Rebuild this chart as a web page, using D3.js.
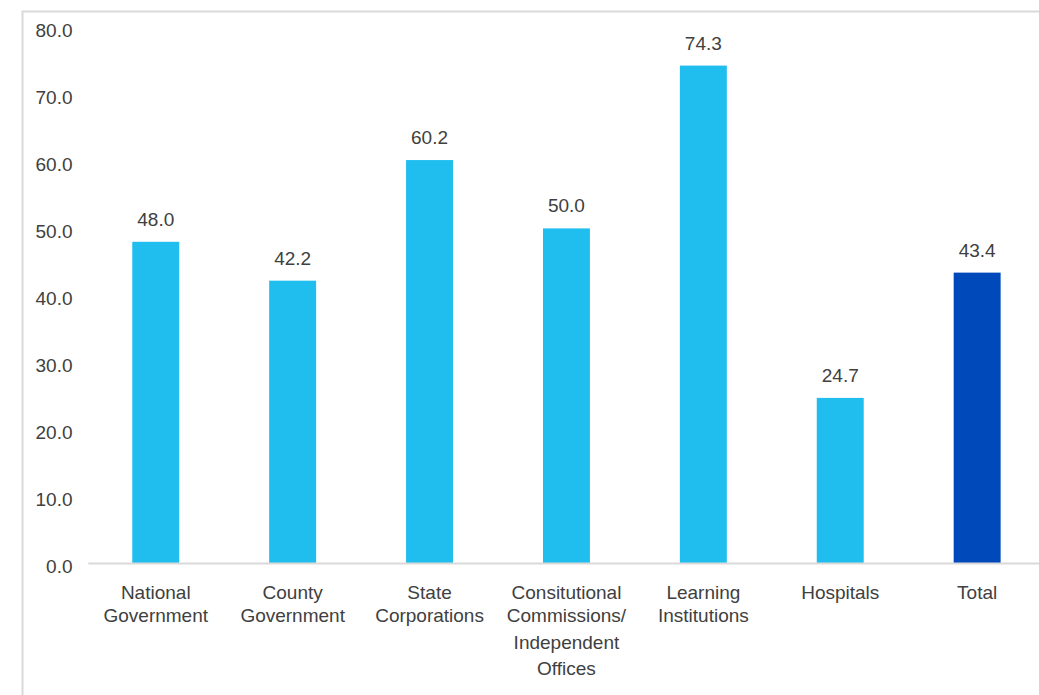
<!DOCTYPE html>
<html>
<head>
<meta charset="utf-8">
<script src="https://cdn.jsdelivr.net/npm/d3@7"></script>
<style>
  html, body { margin: 0; padding: 0; background: #fff; }
  svg { display: block; font-family: "Liberation Sans", Arial, sans-serif; }
</style>
</head>
<body>
<svg id="chart" width="1039" height="695"></svg>
<script>
// Category labels, split into the lines they wrap onto
const categories = [
  ["National", "Government"],
  ["County", "Government"],
  ["State", "Corporations"],
  ["Consitutional", "Commissions/", "Independent", "Offices"],
  ["Learning", "Institutions"],
  ["Hospitals"],
  ["Total"]
];
const values = [48.0, 42.2, 60.2, 50.0, 74.3, 24.7, 43.4];
const yTicks = [0, 10, 20, 30, 40, 50, 60, 70, 80];

const W = 1039, H = 695;
const svg = d3.select("#chart");
const textColor = "#404040";
const gridColor = "#d9d9d9";

// frame of the chart area (its right and bottom edges fall outside the view)
svg.append("path")
  .attr("d", `M22.5,${H + 2} V11.5 H${W + 2}`)
  .attr("fill", "none")
  .attr("stroke", gridColor)
  .attr("stroke-width", 2);

const x = d3.scaleBand()
  .domain(d3.range(categories.length))
  .range([87.3, 1045.6])
  .paddingInner(0.657)
  .paddingOuter(0.3285);

const y = d3.scaleLinear()
  .domain([0, 80])
  .range([563.4, 27.4]);

// value axis labels (no axis line)
const yAxis = d3.axisLeft(y)
  .tickValues(yTicks)
  .tickFormat(d3.format(".1f"))
  .tickSize(0)
  .tickPadding(0);

const yg = svg.append("g")
  .attr("transform", "translate(72.5,0)")
  .call(yAxis);
yg.select(".domain").remove();
yg.selectAll("text")
  .attr("fill", textColor)
  .attr("font-size", 19)
  .attr("font-family", "Liberation Sans, Arial, sans-serif")
  .attr("dy", null)
  .attr("y", 9);

// bars
svg.append("g")
  .selectAll("rect")
  .data(values)
  .join("rect")
  .attr("x", (d, i) => x(i))
  .attr("width", x.bandwidth())
  .attr("y", d => y(d))
  .attr("height", d => y(0) - y(d))
  .attr("fill", (d, i) => i === values.length - 1 ? "#0049BA" : "#20BEEE");

// baseline
svg.append("line")
  .attr("x1", 88.3)
  .attr("x2", W + 2)
  .attr("y1", y(0))
  .attr("y2", y(0))
  .attr("stroke", gridColor)
  .attr("stroke-width", 2);

// value labels
svg.append("g")
  .selectAll("text")
  .data(values)
  .join("text")
  .attr("x", (d, i) => x(i) + x.bandwidth() / 2)
  .attr("y", d => y(d) - 16)
  .attr("text-anchor", "middle")
  .attr("font-size", 19)
  .attr("fill", textColor)
  .text(d => d3.format(".1f")(d));

// category labels; line offsets follow the wrapped layout
const lineOffsets = [0, 23, 49.5, 75.5];
const cat = svg.append("g")
  .selectAll("text")
  .data(categories)
  .join("text")
  .attr("text-anchor", "middle")
  .attr("font-size", 19)
  .attr("fill", textColor)
  .attr("transform", (d, i) => `translate(${x(i) + x.bandwidth() / 2},599)`);

cat.selectAll("tspan")
  .data(d => d)
  .join("tspan")
  .attr("x", 0)
  .attr("y", (d, j) => lineOffsets[j])
  .text(d => d);
</script>
</body>
</html>
